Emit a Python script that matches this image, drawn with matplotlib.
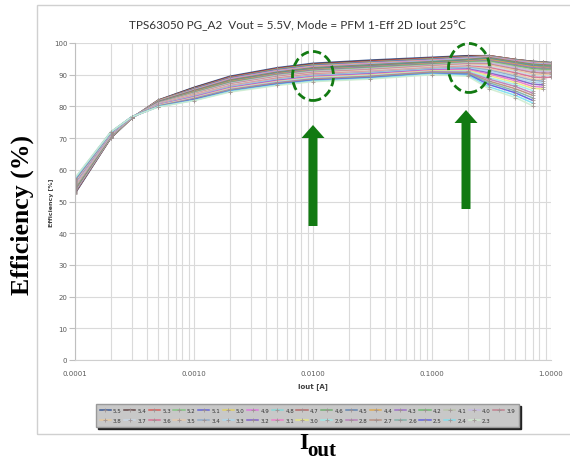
import numpy as np
import matplotlib.pyplot as plt
from matplotlib.patches import Ellipse, FancyArrow, Rectangle
from matplotlib.ticker import LogLocator, NullFormatter
from matplotlib.transforms import IdentityTransform

# Output current [A]
iout = [0.0001, 0.0002, 0.0003, 0.0005, 0.001, 0.002, 0.005, 0.01,
        0.03, 0.1, 0.2, 0.3, 0.5, 0.7, 0.85, 1.0]

# Efficiency [%] per input voltage
eff_55 = [52.5, 70.0, 76.3, 82.0, 86.0, 89.5, 92.2, 93.6, 94.6, 95.5, 96.0, 96.0, 94.8, 94.2, 94.0, 93.8]
eff_54 = [52.7, 70.1, 76.3, 81.9, 85.9, 89.3, 92.0, 93.4, 94.4, 95.3, 95.9, 96.0, 94.8, 94.2, 94.0, 93.8]
eff_53 = [52.8, 70.1, 76.3, 81.9, 85.7, 89.2, 91.9, 93.2, 94.2, 95.2, 95.7, 96.0, 94.8, 94.1, 93.9, 93.7]
eff_52 = [53.0, 70.2, 76.3, 81.8, 85.6, 89.0, 91.7, 93.1, 94.0, 95.0, 95.6, 95.9, 94.7, 94.1, 93.9, 93.7]
eff_51 = [53.1, 70.3, 76.4, 81.7, 85.5, 88.9, 91.5, 92.9, 93.9, 94.8, 95.5, 95.8, 94.6, 94.0, 93.8, 93.6]
eff_50 = [53.3, 70.3, 76.4, 81.7, 85.3, 88.7, 91.3, 92.7, 93.7, 94.6, 95.3, 95.7, 94.5, 93.9, 93.7, 93.5]
eff_49 = [53.4, 70.4, 76.4, 81.6, 85.2, 88.6, 91.2, 92.5, 93.5, 94.5, 95.2, 95.6, 94.4, 93.7, 93.5, 93.3]
eff_48 = [53.6, 70.4, 76.4, 81.5, 85.1, 88.4, 91.0, 92.3, 93.3, 94.3, 95.0, 95.5, 94.2, 93.5, 93.3, 93.2]
eff_47 = [53.8, 70.5, 76.4, 81.5, 85.0, 88.3, 90.8, 92.2, 93.1, 94.1, 94.8, 95.4, 94.1, 93.3, 93.1, 93.0]
eff_46 = [53.9, 70.6, 76.4, 81.4, 84.8, 88.1, 90.6, 92.0, 92.9, 94.0, 94.7, 95.2, 93.9, 93.1, 92.9, 92.8]
eff_45 = [54.1, 70.6, 76.4, 81.3, 84.7, 87.9, 90.5, 91.8, 92.7, 93.8, 94.5, 95.0, 93.6, 92.8, 92.6, 92.5]
eff_44 = [54.2, 70.7, 76.4, 81.2, 84.6, 87.8, 90.3, 91.6, 92.5, 93.6, 94.3, 94.8, 93.4, 92.5, 92.3, 92.3]
eff_43 = [54.4, 70.8, 76.5, 81.2, 84.4, 87.6, 90.1, 91.4, 92.4, 93.4, 94.1, 94.5, 93.1, 92.2, 92.0, 92.0]
eff_42 = [54.5, 70.8, 76.5, 81.1, 84.3, 87.5, 89.9, 91.2, 92.2, 93.3, 94.0, 94.3, 92.8, 91.9, 91.7, 91.7]
eff_41 = [54.7, 70.9, 76.5, 81.0, 84.2, 87.3, 89.8, 91.1, 92.0, 93.1, 93.8, 94.0, 92.5, 91.5, 91.3, 91.3]
eff_40 = [54.8, 70.9, 76.5, 81.0, 84.0, 87.2, 89.6, 90.9, 91.8, 92.9, 93.6, 93.7, 92.2, 91.1, 90.9, 90.9]
eff_39 = [55.0, 71.0, 76.5, 80.9, 83.9, 87.0, 89.4, 90.7, 91.6, 92.8, 93.4, 93.4, 91.8, 90.7, 90.5, 90.5]
eff_38 = [55.2, 71.1, 76.5, 80.8, 83.8, 86.8, 89.2, 90.5, 91.4, 92.6, 93.2, 93.1, 91.4, 90.2, 90.0, 90.1]
eff_37 = [55.3, 71.1, 76.5, 80.8, 83.6, 86.7, 89.1, 90.3, 91.2, 92.4, 93.0, 92.7, 91.0, 89.8, 89.6, 89.7]
eff_36 = [55.5, 71.2, 76.5, 80.7, 83.5, 86.5, 88.9, 90.2, 91.0, 92.2, 92.7, 92.3, 90.6, 89.3, 89.1, 89.2]
eff_35 = [55.6, 71.3, 76.6, 80.6, 83.4, 86.4, 88.7, 90.0, 90.9, 92.1, 92.5, 91.9, 90.1, 88.7, 88.5]
eff_34 = [55.8, 71.3, 76.6, 80.6, 83.2, 86.2, 88.5, 89.8, 90.7, 91.9, 92.3, 91.5, 89.6, 88.2, 88.0]
eff_33 = [55.9, 71.4, 76.6, 80.5, 83.1, 86.1, 88.4, 89.6, 90.5, 91.7, 92.1, 91.1, 89.1, 87.6, 87.4]
eff_32 = [56.1, 71.4, 76.6, 80.4, 83.0, 85.9, 88.2, 89.4, 90.3, 91.5, 91.8, 90.6, 88.6, 87.0, 86.8]
eff_31 = [56.3, 71.5, 76.6, 80.4, 82.9, 85.8, 88.0, 89.3, 90.1, 91.4, 91.6, 90.2, 88.1, 86.3, 86.1]
eff_30 = [56.4, 71.6, 76.6, 80.3, 82.7, 85.6, 87.8, 89.1, 89.9, 91.2, 91.3, 89.7, 87.5, 85.7, 85.5]
eff_29 = [56.6, 71.6, 76.6, 80.2, 82.6, 85.4, 87.7, 88.9, 89.7, 91.0, 91.1, 89.1, 86.9, 85.0]
eff_28 = [56.7, 71.7, 76.6, 80.1, 82.5, 85.3, 87.5, 88.7, 89.5, 90.9, 90.8, 88.6, 86.3, 84.2]
eff_27 = [56.9, 71.8, 76.7, 80.1, 82.3, 85.1, 87.3, 88.5, 89.4, 90.7, 90.6, 88.0, 85.6, 83.5]
eff_26 = [57.0, 71.8, 76.7, 80.0, 82.2, 85.0, 87.1, 88.3, 89.2, 90.5, 90.3, 87.5, 84.9, 82.7]
eff_25 = [57.2, 71.9, 76.7, 79.9, 82.1, 84.8, 87.0, 88.2, 89.0, 90.3, 90.1, 86.9, 84.3, 81.9]
eff_24 = [57.3, 71.9, 76.7, 79.9, 81.9, 84.7, 86.8, 88.0, 88.8, 90.2, 89.8, 86.2, 83.5, 81.1]
eff_23 = [57.5, 72.0, 76.7, 79.8, 81.8, 84.5, 86.6, 87.8, 88.6, 90.0, 89.5, 85.6, 82.8, 80.2]

vin_labels = ['5.5', '5.4', '5.3', '5.2', '5.1', '5.0', '4.9', '4.8', '4.7', '4.6', '4.5',
              '4.4', '4.3', '4.2', '4.1', '4.0', '3.9', '3.8', '3.7', '3.6', '3.5', '3.4',
              '3.3', '3.2', '3.1', '3.0', '2.9', '2.8', '2.7', '2.6', '2.5', '2.4', '2.3']
series = [eff_55, eff_54, eff_53, eff_52, eff_51, eff_50, eff_49, eff_48, eff_47, eff_46, eff_45,
          eff_44, eff_43, eff_42, eff_41, eff_40, eff_39, eff_38, eff_37, eff_36, eff_35, eff_34,
          eff_33, eff_32, eff_31, eff_30, eff_29, eff_28, eff_27, eff_26, eff_25, eff_24, eff_23]
line_colors = ['#2f4f8f', '#5a3a3a', '#d9534f', '#7bc47b', '#5b5bd6', '#e3d25a', '#e070e0',
               '#7fd9d9', '#b56060', '#6aaa6a', '#5a7fb0', '#e0a848', '#9a6ac8', '#66b866',
               '#b8c4a8', '#c4b8e6', '#c27a8a', '#e8c89a', '#c8d8e8', '#d86a8e', '#e8c8a8',
               '#8aa8c8', '#a8d8f0', '#7a5ac8', '#f07ac8', '#eaea7a', '#9aeaea', '#b87ab8',
               '#b88a7a', '#7ab0a8', '#5a5ae0', '#7ae0f0', '#cfeccf']

title = 'TPS63050 PG_A2  Vout = 5.5V, Mode = PFM 1-Eff 2D Iout 25°C'
green = '#127a12'

fig = plt.figure(figsize=(5.7, 4.6), dpi=100)
ax = fig.add_axes([75 / 570, 99 / 460, 476 / 570, 317 / 460])

for vals, lab, col in zip(series, vin_labels, line_colors):
    ax.plot(iout[:len(vals)], vals, color=col, lw=1.1, alpha=0.9, label=lab,
            marker='+', ms=3, mec='#9c8f8f', mew=0.6)

ax.set_xscale('log')
ax.set_xlim(0.0001, 1.0)
ax.set_ylim(0, 100)
ax.set_xticks([0.0001, 0.001, 0.01, 0.1, 1.0])
ax.set_xticklabels(['0.0001', '0.0010', '0.0100', '0.1000', '1.0000'])
ax.xaxis.set_minor_locator(LogLocator(base=10, subs=np.arange(2, 10)))
ax.xaxis.set_minor_formatter(NullFormatter())
ax.set_yticks(np.arange(0, 101, 10))

ax.tick_params(axis='x', which='both', length=0, pad=7, labelsize=5, labelcolor='#595959')
ax.tick_params(axis='y', length=4, color='#bfbfbf', pad=1.5, labelsize=5, labelcolor='#595959')
for s in ['top', 'right']:
    ax.spines[s].set_visible(False)
ax.spines['left'].set_color('#bfbfbf')
ax.spines['bottom'].set_color('#cfcfcf')
ax.grid(True, which='both', axis='x', color='#dadada', lw=0.8)
ax.grid(True, which='major', axis='y', color='#dadada', lw=0.8)
ax.set_axisbelow(True)

# small axis titles inside the chart
fig.text(313 / 570, 73 / 460, 'Iout [A]', ha='center', va='center', fontsize=5,
         fontweight='bold', color='#404040')
fig.text(52 / 570, 257 / 460, 'Efficiency [%]', ha='center', va='center', fontsize=4.5,
         fontweight='bold', color='#404040', rotation=90)
fig.text(297.5 / 570, 1 - 25 / 460, title, ha='center', va='center', fontsize=8.5,
         family='Lato', color='#333333')

# legend: 17 entries on the first row, 16 on the second, read left to right
ncol = 17
handles, labels = ax.get_legend_handles_labels()
order = []
for i in range(ncol):
    order.append(i)
    if i + ncol < len(handles):
        order.append(i + ncol)
leg = fig.legend([handles[i] for i in order], [labels[i] for i in order], ncols=ncol,
                 loc='center', bbox_to_anchor=(93 / 570, 30 / 460, 429 / 570, 27 / 460),
                 mode='expand', fontsize=4, handlelength=2.0, handletextpad=0.4,
                 columnspacing=0.5, borderpad=0.7, labelspacing=1.0, fancybox=False,
                 facecolor='#c8c8c8', edgecolor='#9a9a9a', framealpha=1,
                 shadow={'color': '#222222', 'alpha': 1, 'ox': 1.5, 'oy': -1.5})
for t in leg.get_texts():
    t.set_color('#333333')

# outer chart border
fig.add_artist(Rectangle((37, 25), 560, 429, transform=IdentityTransform(),
                         fill=False, ec='#d0d0d0', lw=1))

# annotations
for cx, cy in [(313, 383), (469, 391)]:
    fig.add_artist(Ellipse((cx, cy), 41, 49, transform=IdentityTransform(), fill=False,
                           ec=green, lw=2, ls=(0, (3, 1.5))))
for x0, y0, dy in [(313, 233, 101), (466, 250, 99)]:
    fig.add_artist(FancyArrow(x0, y0, 0, dy, width=9, head_width=23, head_length=13,
                              length_includes_head=True, transform=IdentityTransform(),
                              color=green, lw=0))

fig.text(22 / 570, 245 / 460, 'Efficiency (%)', rotation=90, ha='center', va='center',
         fontsize=18.5, fontweight='bold', family='Liberation Serif')
fig.text(299 / 570, 11 / 460, 'I', ha='left', va='baseline', fontsize=17,
         fontweight='bold', family='Liberation Serif')
fig.text(307.5 / 570, 4 / 460, 'out', ha='left', va='baseline', fontsize=15,
         fontweight='bold', family='Liberation Serif')

fig.savefig('out.png', dpi=100, facecolor='white')
